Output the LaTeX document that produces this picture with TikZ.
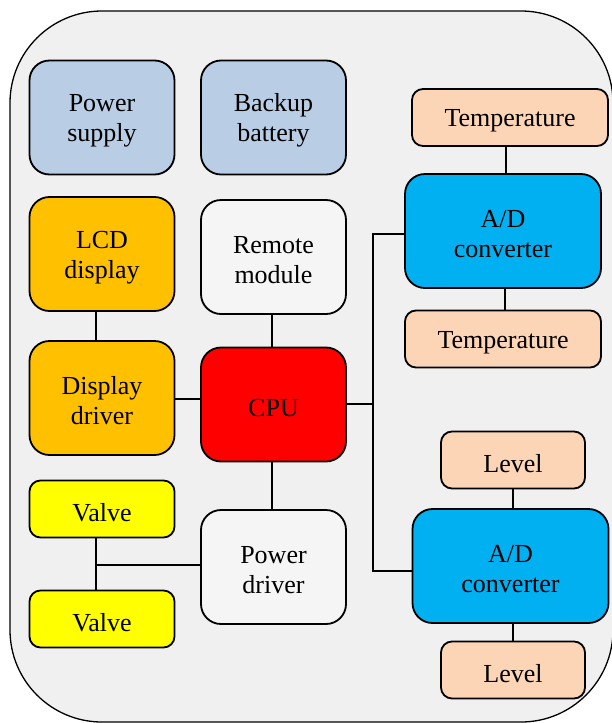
\documentclass[tikz,border=0pt]{standalone}
\usepackage{fontspec}
\setmainfont{Liberation Serif}
\definecolor{panel}{HTML}{F0F0F0}
\definecolor{steel}{HTML}{B9CDE5}
\definecolor{amber}{HTML}{FFC000}
\definecolor{cpured}{HTML}{FF0000}
\definecolor{lemon}{HTML}{FFFF00}
\definecolor{sky}{HTML}{00B0F0}
\definecolor{peach}{HTML}{FBD5B5}
\definecolor{pale}{HTML}{F5F5F5}
\newcommand\blkstrut{54pt}
\tikzset{
  strut/.store in=\blkstrut,
  blk/.style={draw, line width=1.8pt, rounded corners=20pt, align=center,
    inner sep=0pt, minimum width=145pt, minimum height=114pt,
    font=\fontsize{26}{30}\selectfont, strut=54pt,
    % an invisible strut sets the text a little below the box centre
    execute at begin node={\rule{0pt}{\blkstrut}}},
  one/.style={strut=24.5pt},
  wide/.style={blk, minimum width=196pt},
  slim/.style={blk, one, rounded corners=11pt, minimum height=57pt},
  wire/.style={line width=2.4pt}
}
\begin{document}
\begin{tikzpicture}[x=1pt,y=-1pt]
\useasboundingbox (0,0) rectangle (612,723);
% enclosure
\draw[fill=panel, line width=1.3pt, rounded corners=92pt] (10,11) rectangle (613,722);

% left column
\node[blk, fill=steel] (ps)  at (102,117.5) {Power\\supply};
\node[blk, fill=amber] (lcd) at (102,254)   {LCD\\display};
\node[blk, fill=amber] (dd)  at (102,398)   {Display\\driver};
\node[slim, minimum width=145pt, fill=lemon] (valA) at (102,509) {Valve};
\node[slim, minimum width=145pt, fill=lemon] (valB) at (102,619) {Valve};

% middle column
\node[blk, fill=steel] (bb)  at (273.5,117.5) {Backup\\battery};
\node[blk, fill=pale]  (rem) at (273.5,257)   {Remote\\module};
\node[blk, one, fill=cpured] (cpu) at (273.5,404.5) {CPU};
\node[blk, fill=pale]  (pd)  at (273.5,567)   {Power\\driver};

% right column
\node[slim, minimum width=196pt, fill=peach] (tempA) at (510,117.5) {Temperature};
\node[wide, fill=sky] (adA)   at (503,231) {A/D\\converter};
\node[slim, minimum width=196pt, fill=peach] (tempB) at (503,339) {Temperature};
\node[slim, minimum width=144pt, fill=peach] (levA)  at (513,460) {Level};
\node[wide, fill=sky] (adB)   at (510.5,566) {A/D\\converter};
\node[slim, minimum width=144pt, fill=peach] (levB)  at (513,670) {Level};

% junction points
\coordinate (busTop) at (373,234);
\coordinate (busMid) at (373,404);
\coordinate (busBot) at (373,571);
\coordinate (valJ)   at (96,565);

% sensor links
\draw[wire] (tempA.south -| 506,0) -- (adA.north -| 506,0);
\draw[wire] (adA.south -| 505,0) -- (tempB.north -| 505,0);
\draw[wire] (levA.south) -- (levA.south |- adB.north);
\draw[wire] (adB.south -| levB.north) -- (levB.north);

% display chain
\draw[wire] (lcd.south -| 96,0) -- (dd.north -| 96,0);
\draw[wire] (dd.east |- 0,399) -- (cpu.west |- 0,399);

% cpu links
\draw[wire] (rem.south -| 272,0) -- (cpu.north -| 272,0);
\draw[wire] (cpu.south -| 272,0) -- (pd.north -| 272,0);
\draw[wire] (cpu.east |- busMid) -- (busMid);
\draw[wire] (adA.west |- busTop) -- (busTop) -- (busBot) -- (adB.west |- busBot);

% valve links
\draw[wire] (valA.south -| valJ) -- (valB.north -| valJ);
\draw[wire] (valJ) -- (pd.west |- valJ);
\end{tikzpicture}
\end{document}
